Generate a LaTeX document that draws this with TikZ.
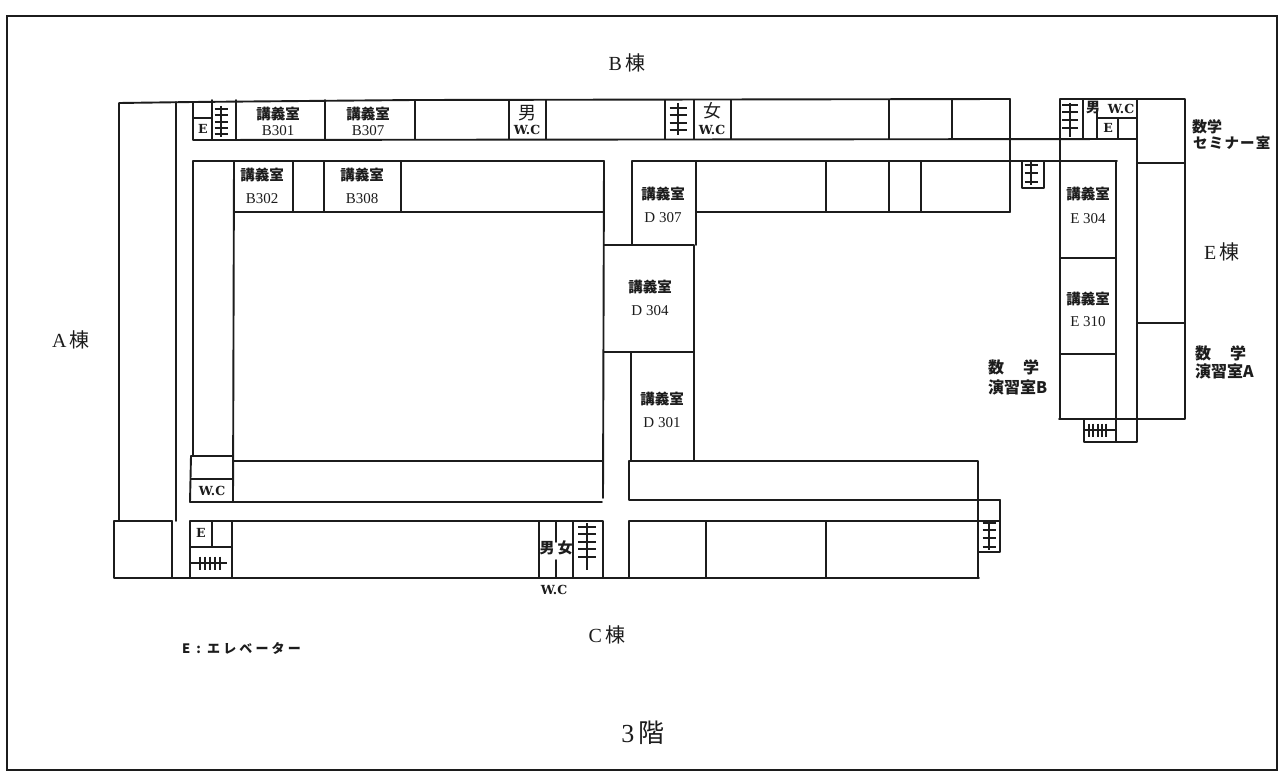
\documentclass[tikz,border=0pt]{standalone}
\usepackage{fontspec}
\setmainfont{Liberation Serif}
\newfontfamily\cjk{Noto Sans CJK JP}
\newfontfamily\wcfont{DejaVu Serif}
\definecolor{ink}{HTML}{1C1C1C}
\newcommand{\stairV}[5]{% x, y top, y bottom, tick ys, half width
  \draw[stairline] (#1,#2) -- (#1,#3);
  \foreach \t in {#4} \draw[stairline] (#1-#5,\t) -- (#1+#5,\t);}
\newcommand{\stairH}[4]{% y, x left, x right, tick xs
  \draw[stairline] (#2,#1) -- (#3,#1);
  \foreach \t in {#4} \draw[stairline] (\t,#1-6.5) -- (\t,#1+6.5);}
\tikzset{
  wall/.style={draw=ink,line width=1.9pt,line cap=round,line join=round},
  stairline/.style={draw=ink,line width=1.8pt},
  room/.style={text=ink,font=\fontsize{15}{18}\selectfont,align=center,inner sep=0pt},
  big/.style={text=ink,font=\fontsize{20}{22}\selectfont,inner sep=0pt},
  tiny/.style={text=ink,font=\wcfont\bfseries\fontsize{12.5}{14}\selectfont,inner sep=0pt},
  small/.style={text=ink,font=\cjk\bfseries\fontsize{16}{17}\selectfont,align=left,inner sep=0pt},
}
\newcommand{\koub}{{\cjk\bfseries\fontsize{14.5}{18}\selectfont 講義室}}
\begin{document}
\begin{tikzpicture}[x=1pt,y=-1pt]
\useasboundingbox (0,0) rectangle (1284,773);
\fill[white] (0,0) rectangle (1284,773);
\draw[ink,line width=1.8pt] (7,16) rectangle (1277,770);
% A wing
\draw[wall] (119,521) -- (119,103) -- (193,102) -- (415,100) -- (1010,99);
\draw[wall] (176,102) -- (176,521);
\draw[wall] (114,521) -- (172,521);
\draw[wall] (114,521) -- (114,578) -- (979,578);
\draw[wall] (172,521) -- (172,578);
% B wing, north strip
\draw[wall] (193,102) -- (193,140) -- (1137,139);
\draw[wall] (193,118) -- (212,118);
\foreach \x in {212,236,325,415,509,546,665,694,731,889,952} \draw[wall] (\x,100) -- (\x,139);
\draw[wall] (1010,99) -- (1010,212);
% B wing, south strip
\draw[wall] (193,161) -- (604,161);
\draw[wall] (234,212) -- (604,212);
\foreach \x in {293,324,401} \draw[wall] (\x,161) -- (\x,212);
\draw[wall] (193,161) -- (193,456);
\draw[wall] (234,161) -- (233,502);
\draw[wall] (604,161) -- (603,498);
% south-west block
\draw[wall] (191,456) -- (233,456);
\draw[wall] (191,479) -- (233,479);
\draw[wall] (191,456) -- (190,502) -- (602,502);
\draw[wall] (233,461) -- (603,461);
% C wing
\draw[wall] (190,578) -- (190,521) -- (603,521) -- (603,578);
\draw[wall] (232,521) -- (232,578);
\draw[wall] (190,547) -- (232,547);
\draw[wall] (212,521) -- (212,547);
\draw[wall] (539,521) -- (539,578);
\draw[wall] (556,521) -- (556,542);
\draw[wall] (556,560) -- (556,578);
\draw[wall] (573,521) -- (573,578);
\draw[wall] (629,578) -- (629,521) -- (1000,521);
\draw[wall] (629,461) -- (629,500) -- (1000,500);
\draw[wall] (629,461) -- (978,461) -- (978,578);
\draw[wall] (706,521) -- (706,578);
\draw[wall] (826,521) -- (826,578);
\draw[wall] (1000,500) -- (1000,552) -- (978,552);
% D wing
\draw[wall] (632,245) -- (632,161) -- (1117,161);
\draw[wall] (696,161) -- (696,245);
\draw[wall] (696,212) -- (1010,212);
\foreach \x in {826,889,921} \draw[wall] (\x,161) -- (\x,212);
\draw[wall] (604,245) -- (694,245) -- (694,352) -- (604,352);
\draw[wall] (631,352) -- (631,461);
\draw[wall] (694,352) -- (694,461);
% E wing
\draw[wall] (1060,419) -- (1060,99) -- (1185,99) -- (1185,419) -- (1059,419);
\draw[wall] (1137,99) -- (1137,442) -- (1084,442) -- (1084,419);
\draw[wall] (1116,161) -- (1116,442);
\draw[wall] (1083,99) -- (1083,139);
\draw[wall] (1097,110) -- (1097,139);
\draw[wall] (1097,118) -- (1137,118);
\draw[wall] (1118,118) -- (1118,139);
\draw[wall] (1137,163) -- (1185,163);
\draw[wall] (1137,323) -- (1185,323);
\draw[wall] (1060,258) -- (1116,258);
\draw[wall] (1060,354) -- (1116,354);
% stair box on the D wing
\draw[wall] (1022,161) -- (1022,188) -- (1044,188) -- (1044,161);
% stairs
\stairV{221}{106}{137}{109,115,122,128,134}{6.5}
\stairV{678}{103}{135}{108,115,123,130}{8.5}
\stairV{1070}{103}{137}{105,112,120,128}{8}
\stairV{1031}{162}{185}{165,173,182}{6.5}
\stairV{587}{523}{570}{527,534,542,549,557}{9}
\stairV{989}{520}{550}{523,530,538,547}{6.5}
\stairH{563}{190}{227}{200,205,210,215,220}
\stairH{430}{1085}{1115}{1089,1093,1098,1102,1106}
% rooms
\node[room] (r1) at (278,121) {\koub\\[-2pt]B301};
\node[room] (r2) at (368,121) {\koub\\[-2pt]B307};
\node[room] (r3) at (262,186) {\koub\\[5pt]B302};
\node[room] (r4) at (362,186) {\koub\\[5pt]B308};
\node[room] (r5) at (663,205) {\koub\\[5pt]D 307};
\node[room] (r6) at (650,298) {\koub\\[5pt]D 304};
\node[room] (r7) at (662,410) {\koub\\[5pt]D 301};
\node[room] (r8) at (1088,205) {\koub\\[6pt]E 304};
\node[room] (r9) at (1088,309) {\koub\\[4pt]E 310};
% toilets and lifts
\node[room,font=\cjk\fontsize{18}{18}\selectfont] (m1) at (527,113) {男};
\node[tiny] (w1) at (527,130) {W.C};
\node[room,font=\cjk\fontsize{18}{18}\selectfont] (f1) at (712,111) {女};
\node[tiny] (w2) at (712,130) {W.C};
\node[room,font=\cjk\bfseries\fontsize{14}{14}\selectfont] (m2) at (1093,108) {男};
\node[tiny] (w3) at (1121,109) {W.C};
\node[tiny] (e1) at (1108,128) {E};
\node[tiny] (e2) at (203,129) {E};
\node[tiny] (e3) at (201,533) {E};
\node[tiny] (w4) at (212,491) {W.C};
\node[room,font=\cjk\bfseries\fontsize{15}{14}\selectfont] (m3) at (547,548) {男};
\node[room,font=\cjk\bfseries\fontsize{15}{14}\selectfont] (f3) at (565,548) {女};
\node[tiny] (w5) at (554,590) {W.C};
% wing names
\node[big] (bw) at (627,63) {B\,{\cjk 棟}};
\node[big] (aw) at (71,340) {A\,{\cjk 棟}};
\node[big] (ew) at (1222,252) {E\,{\cjk 棟}};
\node[big] (cw) at (607,635) {C\,{\cjk 棟}};
\node[text=ink,font=\fontsize{26}{28}\selectfont,inner sep=0pt] (fl) at (643,733) {3\,{\cjk 階}};
% side labels
\node[small,anchor=west,font=\cjk\bfseries\fontsize{15}{17}\selectfont] (s1) at (1192,127) {数学};
\node[small,anchor=west,font=\cjk\bfseries\fontsize{14.5}{17}\selectfont\addfontfeature{LetterSpace=8}] (s2) at (1193,143) {セミナー室};
\node[small,anchor=west] (s3) at (1195,353) {数\hspace{19pt}学};
\node[small,anchor=west] (s4) at (1195,371) {演習室A};
\node[small,anchor=west] (s5) at (988,367) {数\hspace{19pt}学};
\node[small,anchor=west] (s6) at (988,387) {演習室B};
\node[small,anchor=west,font=\cjk\bfseries\fontsize{13}{13}\selectfont\addfontfeature{LetterSpace=24}] (key) at (182,648) {E : エレベーター};
\end{tikzpicture}
\end{document}
